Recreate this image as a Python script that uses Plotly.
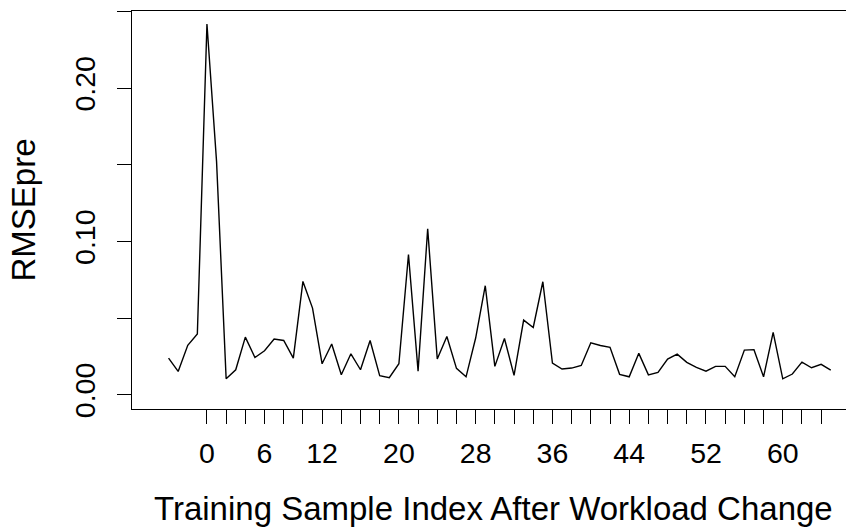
import plotly.graph_objects as go

sample_index = list(range(-4, 66))
rmse_pre = [
    0.0239, 0.0152, 0.0322, 0.0396, 0.2418, 0.1522, 0.0104, 0.0163, 0.0376, 0.0243,
    0.0287, 0.0363, 0.0354, 0.0239, 0.0739, 0.0565, 0.0202, 0.0331, 0.0130, 0.0267,
    0.0163, 0.0354, 0.0124, 0.0111, 0.0202, 0.0915, 0.0154, 0.1083, 0.0233, 0.0380,
    0.0172, 0.0117, 0.0370, 0.0711, 0.0185, 0.0367, 0.0126, 0.0487, 0.0439, 0.0737,
    0.0207, 0.0168, 0.0174, 0.0191, 0.0339, 0.0321, 0.0309, 0.0133, 0.0117, 0.0270,
    0.0130, 0.0146, 0.0233, 0.0265, 0.0211, 0.0178, 0.0154, 0.0185, 0.0185, 0.0117,
    0.0291, 0.0294, 0.0117, 0.0407, 0.0104, 0.0135, 0.0213, 0.0176, 0.0198, 0.0161,
]
x_tick_vals = list(range(0, 66, 2))
x_tick_labels = ["0", "", "", "6", "", "", "12", "", "", "", "20", "", "", "", "28", "", "", "",
                 "36", "", "", "", "44", "", "", "", "52", "", "", "", "60", "", ""]
y_tick_vals = [0.0, 0.05, 0.10, 0.15, 0.20, 0.25]
y_tick_labels = ["0.00", "", "0.10", "", "0.20", ""]
x_title = "Training Sample Index After Workload Change"
y_title = "RMSEpre"

FONT = "Liberation Sans, Arial, Helvetica, sans-serif"

fig = go.Figure()
fig.add_trace(go.Scatter(x=sample_index, y=rmse_pre, mode="lines",
                         line=dict(color="black", width=1.4), showlegend=False,
                         hoverinfo="x+y"))

fig.update_layout(
    width=846, height=529,
    margin=dict(l=132, r=0, t=11, b=120),
    paper_bgcolor="white", plot_bgcolor="white",
    font=dict(family=FONT, color="black"),
    xaxis=dict(range=[-7.81, 66.59], tickmode="array", tickvals=x_tick_vals,
               ticktext=x_tick_labels, ticks="outside", ticklen=14, tickwidth=1.2,
               tickcolor="black", showline=True, linecolor="black", linewidth=1.3,
               mirror=True, showgrid=False, zeroline=False, ticklabelstandoff=5,
               tickfont=dict(size=28.5, family=FONT, color="black")),
    yaxis=dict(range=[-0.0093, 0.2503], tickmode="array", tickvals=y_tick_vals,
               ticktext=y_tick_labels, ticks="outside", ticklen=14, tickwidth=1.2,
               tickcolor="black", showline=True, linecolor="black", linewidth=1.3,
               showgrid=False, zeroline=False, tickangle=-90, ticklabelstandoff=10,
               tickfont=dict(size=28.5, family=FONT, color="black")),
    annotations=[
        dict(text=x_title, xref="paper", yref="paper", x=0.507, y=-0.25,
             xanchor="center", yanchor="middle", showarrow=False,
             font=dict(size=33, family=FONT, color="black")),
        dict(text=y_title, xref="paper", yref="paper", x=-0.152, y=0.5,
             xanchor="center", yanchor="middle", showarrow=False, textangle=-90,
             font=dict(size=33, family=FONT, color="black")),
    ],
)

fig.write_html("out.html", config={"displayModeBar": False},
               post_script="document.body.style.margin='0';document.body.style.overflow='hidden';")
